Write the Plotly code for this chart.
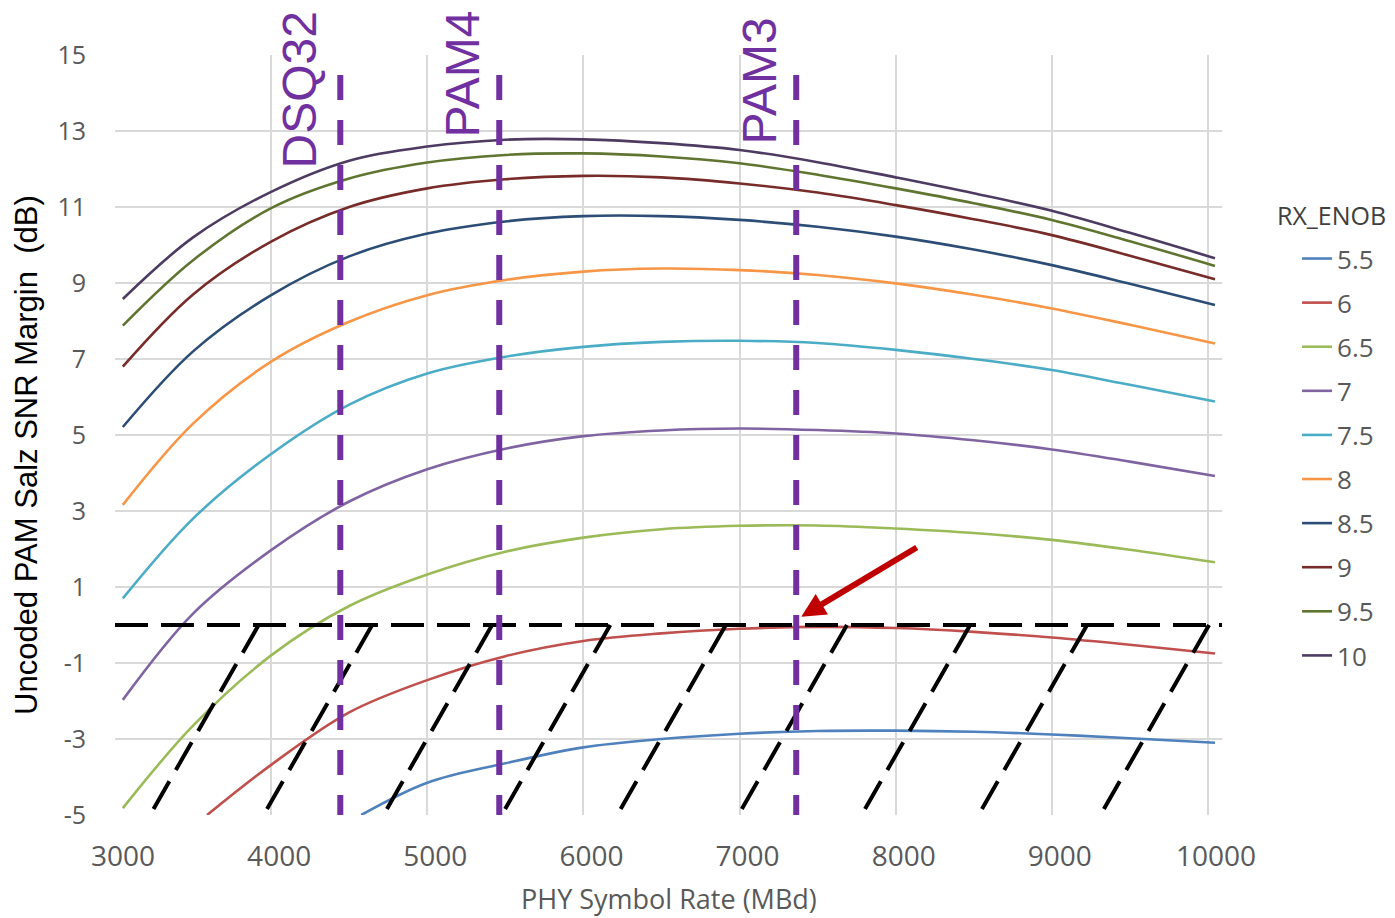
import plotly.graph_objects as go

# ---------------- data ----------------
ENOB_LABELS = ["5.5", "6", "6.5", "7", "7.5", "8", "8.5", "9", "9.5", "10"]
COLORS = ["#4F81BD", "#C0504D", "#9BBB59", "#8064A2", "#4BACC6",
          "#F79646", "#2C4D75", "#772C2A", "#5F7530", "#4D3B62"]

X_MAIN = [3050, 3500, 4000, 4500, 5000, 5500, 6000, 6500, 7000, 7500, 8000, 8500, 9000, 9500, 10045]
SNR_10 = [8.58, 10.20, 11.40, 12.22, 12.59, 12.77, 12.78, 12.68, 12.50, 12.18, 11.78, 11.36, 10.90, 10.32, 9.65]
SNR_9_5 = [7.88, 9.60, 10.97, 11.75, 12.17, 12.37, 12.41, 12.33, 12.15, 11.85, 11.49, 11.10, 10.66, 10.10, 9.45]
SNR_9 = [6.80, 8.70, 10.09, 11.00, 11.49, 11.73, 11.82, 11.78, 11.62, 11.38, 11.05, 10.68, 10.26, 9.72, 9.10]
SNR_8_5 = [5.21, 7.20, 8.68, 9.70, 10.30, 10.62, 10.76, 10.76, 10.66, 10.48, 10.22, 9.88, 9.47, 8.98, 8.42]
SNR_8 = [3.16, 5.30, 6.93, 7.98, 8.68, 9.08, 9.30, 9.38, 9.34, 9.21, 8.99, 8.69, 8.33, 7.90, 7.41]
SNR_7_5 = [0.70, 2.80, 4.50, 5.80, 6.62, 7.06, 7.32, 7.45, 7.48, 7.42, 7.24, 7.00, 6.71, 6.32, 5.88]
SNR_7 = [-1.97, 0.30, 1.97, 3.25, 4.10, 4.64, 4.97, 5.12, 5.17, 5.13, 5.04, 4.86, 4.62, 4.30, 3.92]
SNR_6_5 = [-4.82, -2.65, -0.80, 0.50, 1.33, 1.93, 2.30, 2.52, 2.61, 2.62, 2.54, 2.42, 2.24, 1.98, 1.65]

X_6 = [3590, 4000, 4500, 5000, 5500, 6000, 6500, 7000, 7500, 8000, 8500, 9000, 9500, 10045]
SNR_6 = [-5.0, -3.68, -2.30, -1.45, -0.82, -0.42, -0.22, -0.10, -0.05, -0.08, -0.18, -0.33, -0.52, -0.75]

X_5_5 = [4577, 5000, 5500, 6000, 6500, 7000, 7500, 8000, 8500, 9000, 9500, 10045]
SNR_5_5 = [-5.0, -4.15, -3.64, -3.22, -3.00, -2.86, -2.79, -2.78, -2.81, -2.88, -2.98, -3.10]

SERIES_X = [X_5_5, X_6, X_MAIN, X_MAIN, X_MAIN, X_MAIN, X_MAIN, X_MAIN, X_MAIN, X_MAIN]
SERIES_Y = [SNR_5_5, SNR_6, SNR_6_5, SNR_7, SNR_7_5, SNR_8, SNR_8_5, SNR_9, SNR_9_5, SNR_10]

# modulation symbol-rate markers
MOD_NAMES = ["DSQ32", "PAM4", "PAM3"]
MOD_RATES = [4443, 5461, 7363]

# zero-margin threshold and hatched region below it
THRESHOLD = 0.0
HATCH_TOPS = [3920, 4647, 5415, 6172, 6912, 7688, 8477, 9226, 10007]
HATCH_SHIFT = 695  # x-distance between top and bottom of each hatch stroke

X_TICKS = [3000, 4000, 5000, 6000, 7000, 8000, 9000, 10000]
Y_TICKS = [-5, -3, -1, 1, 3, 5, 7, 9, 11, 13, 15]

# ---------------- figure ----------------
fig = go.Figure()

for name, color, xs, ys in zip(ENOB_LABELS, COLORS, SERIES_X, SERIES_Y):
    fig.add_trace(go.Scatter(
        x=xs, y=ys, mode="lines", name=name, legendgroup=name,
        line=dict(color=color, width=2.6, shape="spline", smoothing=1.0),
        hoverinfo="x+y+name",
    ))

shapes = []
Y_MIN, Y_MAX = -5, 15
# horizontal threshold dashed line
shapes.append(dict(type="line", xref="paper", yref="y", x0=0, x1=1,
                   y0=THRESHOLD, y1=THRESHOLD, layer="above",
                   line=dict(color="black", width=4, dash="33px,13px")))
# hatch strokes
for xt in HATCH_TOPS:
    shapes.append(dict(type="line", xref="x", yref="y",
                       x0=xt, y0=THRESHOLD, x1=xt - HATCH_SHIFT, y1=Y_MIN,
                       layer="above",
                       line=dict(color="black", width=4, dash="32px,13px")))
# purple modulation lines
for xr in MOD_RATES:
    shapes.append(dict(type="line", xref="x", yref="y",
                       x0=xr, y0=Y_MIN - 0.13, x1=xr, y1=15.13, layer="above",
                       line=dict(color="#7030A0", width=6, dash="25px,20px")))

annotations = []
MOD_LABEL_POS = [(4182, 14.08), (5220, 14.50), (7129, 14.32)]
for name, (ax_, ay_) in zip(MOD_NAMES, MOD_LABEL_POS):
    annotations.append(dict(
        x=ax_, y=ay_, xref="x", yref="y", text=name, showarrow=False,
        textangle=-90, xanchor="center", yanchor="middle",
        font=dict(family="Liberation Sans, Arial", size=48, color="#7030A0")))

# red arrow pointing at PAM3 / zero-margin intersection
annotations.append(dict(
    x=7395, y=0.22, xref="x", yref="y", text="", showarrow=True,
    ax=117, ay=-70, axref="pixel", ayref="pixel",
    arrowhead=2, arrowsize=0.8, arrowwidth=6, arrowcolor="#C00000",
    standoff=0, startstandoff=0))

# axis titles
annotations.append(dict(
    x=0.5, y=-0.1096, xref="paper", yref="paper",
    text="PHY Symbol Rate (MBd)", showarrow=False,
    xanchor="center", yanchor="middle",
    font=dict(family="Open Sans", size=27, color="#595959")))
annotations.append(dict(
    x=-0.0795, y=0.4737, xref="paper", yref="paper",
    text="Uncoded PAM Salz SNR Margin  (dB)", showarrow=False,
    textangle=-90, xanchor="center", yanchor="middle",
    font=dict(family="Liberation Sans, Arial", size=31, color="black")))

# legend title
annotations.append(dict(
    x=1.0479, y=0.7895, xref="paper", yref="paper",
    text="RX_ENOB", showarrow=False, xanchor="left", yanchor="middle",
    font=dict(family="Open Sans", size=25, color="#404040")))

fig.update_layout(
    width=1395, height=918,
    margin=dict(l=115, r=173, t=55, b=103),
    paper_bgcolor="white", plot_bgcolor="white",
    shapes=shapes, annotations=annotations,
    showlegend=True,
    legend=dict(
        font=dict(family="Open Sans", size=26, color="#595959"),
        x=1.0678, y=0.763, xanchor="left", yanchor="top",
        tracegroupgap=7.3, bgcolor="rgba(0,0,0,0)",
    ),
    xaxis=dict(
        range=[3000, 10090], tickvals=X_TICKS,
        ticktext=[str(v) for v in X_TICKS],
        showgrid=True, gridcolor="#D9D9D9", gridwidth=1.5,
        zeroline=False, showline=False, ticks="",
        ticklabelstandoff=22, ticklabelshift=8,
        tickfont=dict(family="Open Sans", size=28, color="#595959"),
    ),
    yaxis=dict(
        range=[Y_MIN, Y_MAX], tickvals=Y_TICKS,
        ticktext=[str(v) for v in Y_TICKS],
        showgrid=True, gridcolor="#D9D9D9", gridwidth=1.5,
        zeroline=False, showline=False, ticks="",
        ticklabelstandoff=28,
        tickfont=dict(family="Open Sans", size=25, color="#595959"),
    ),
)

fig.write_html("out.html")
